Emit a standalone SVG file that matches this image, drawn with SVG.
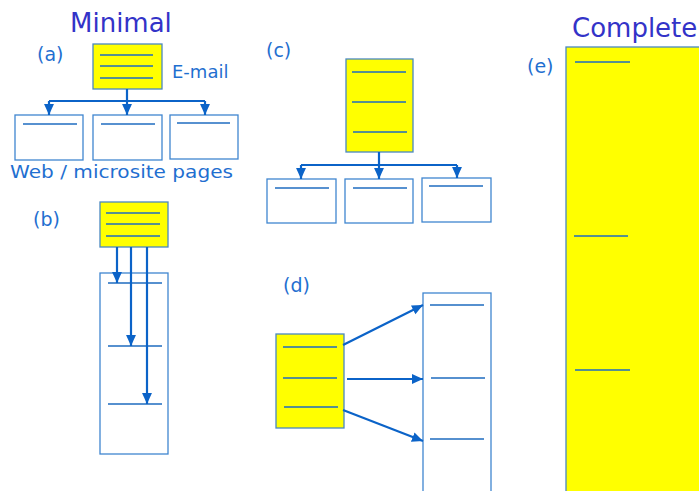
<svg xmlns="http://www.w3.org/2000/svg" width="699" height="491" viewBox="0 0 699 491">
  <style>
    .title { font-family: "DejaVu Sans", Verdana, sans-serif; font-size: 26px; fill: #3333c8; }
    .label { font-family: "DejaVu Sans", Verdana, sans-serif; font-size: 18px; fill: #1f6fd0; }
    .tag { font-family: "DejaVu Sans", Verdana, sans-serif; font-size: 19px; fill: #1f6fd0; }
    .hot { fill: #ffff00; stroke: #4a88c0; stroke-width: 1.3; }
    .page { fill: #ffffff; stroke: #3f86d0; stroke-width: 1.3; }
    .rule { stroke: #1f6cc0; stroke-width: 1.3; fill: none; }
    .link { stroke: #0b63c8; stroke-width: 2.2; fill: none; }
    .arrow { stroke: #0b63c8; stroke-width: 2.2; fill: none; marker-end: url(#head); }
  </style>
  <defs>
    <marker id="head" markerUnits="userSpaceOnUse" markerWidth="11" markerHeight="11" viewBox="0 0 10 10" refX="10" refY="5" orient="auto">
      <path d="M0,0.5 L10,5 L0,9.5 Z" fill="#0b63c8"/>
    </marker>
  </defs>

  <rect width="699" height="491" fill="#ffffff"/>

  <!-- headings and panel labels -->
  <text class="title" x="70" y="32">Minimal</text>
  <text class="title" x="572" y="37">Complete</text>
  <text class="tag" x="37" y="61">(a)</text>
  <text class="tag" x="33" y="226">(b)</text>
  <text class="tag" x="266" y="57">(c)</text>
  <text class="tag" x="283" y="292">(d)</text>
  <text class="tag" x="527" y="73">(e)</text>
  <text class="label" x="172" y="78">E-mail</text>
  <text class="label" x="10" y="178" textLength="223" lengthAdjust="spacingAndGlyphs">Web / microsite pages</text>

  <!-- (a) e-mail with three linked pages -->
  <g id="a-email">
    <rect class="hot" x="93" y="44" width="69" height="45"/>
    <path class="rule" d="M100,55H153M100,66H153M100,78H153"/>
  </g>
  <g id="a-page1">
    <rect class="page" x="15" y="115" width="68" height="45"/>
    <path class="rule" d="M23,124H77"/>
  </g>
  <g id="a-page2">
    <rect class="page" x="93" y="115" width="69" height="45"/>
    <path class="rule" d="M101,124H155"/>
  </g>
  <g id="a-page3">
    <rect class="page" x="170" y="115" width="68" height="44"/>
    <path class="rule" d="M177,123H230"/>
  </g>

  <!-- (b) e-mail pointing into sections of one long page -->
  <g id="b-email">
    <rect class="hot" x="100" y="202" width="68" height="45"/>
    <path class="rule" d="M106,213H160M106,224H160M106,236H160"/>
  </g>
  <g id="b-page">
    <rect class="page" x="100" y="273" width="68" height="181" stroke="#7aaee0"/>
    <path class="rule" d="M108,283H162M108,346H162M108,404H162"/>
  </g>

  <!-- (c) long e-mail with three linked pages -->
  <g id="c-email">
    <rect class="hot" x="346" y="59" width="67" height="93"/>
    <path class="rule" d="M352,72H406M352,102H406M353,132H407"/>
  </g>
  <g id="c-page1">
    <rect class="page" x="267" y="179" width="69" height="44"/>
    <path class="rule" d="M275,188H329"/>
  </g>
  <g id="c-page2">
    <rect class="page" x="345" y="179" width="68" height="44"/>
    <path class="rule" d="M353,188H407"/>
  </g>
  <g id="c-page3">
    <rect class="page" x="422" y="178" width="69" height="44"/>
    <path class="rule" d="M429,186H483"/>
  </g>

  <!-- (d) long e-mail pointing into sections of one long page -->
  <g id="d-email">
    <rect class="hot" x="276" y="334" width="68" height="94"/>
    <path class="rule" d="M283,347H337M283,378H337M284,407H338"/>
  </g>
  <g id="d-page">
    <rect class="page" x="423" y="293" width="68" height="210"/>
    <path class="rule" d="M430,305H484M431,378H485M430,439H484"/>
  </g>

  <!-- (e) everything in the e-mail itself -->
  <g id="e-email">
    <rect class="hot" x="566" y="47" width="150" height="460"/>
    <path class="rule" d="M575,62H630M574,236H628M575,370H630"/>
  </g>

  <!-- connectors -->
  <g id="connectors">
    <path class="link" d="M127,89V101M49,101H205"/>
    <path class="arrow" d="M49,101V115"/>
    <path class="arrow" d="M127,101V115"/>
    <path class="arrow" d="M205,101V115"/>

    <path class="arrow" d="M117,247V283"/>
    <path class="arrow" d="M131,247V346"/>
    <path class="arrow" d="M147,247V404"/>

    <path class="link" d="M379,152V165M301,165H457"/>
    <path class="arrow" d="M301,165V179"/>
    <path class="arrow" d="M379,165V179"/>
    <path class="arrow" d="M457,165V178"/>

    <path class="arrow" d="M343,345L423,305"/>
    <path class="arrow" d="M347,379H423"/>
    <path class="arrow" d="M343,410L423,441"/>
  </g>
</svg>
